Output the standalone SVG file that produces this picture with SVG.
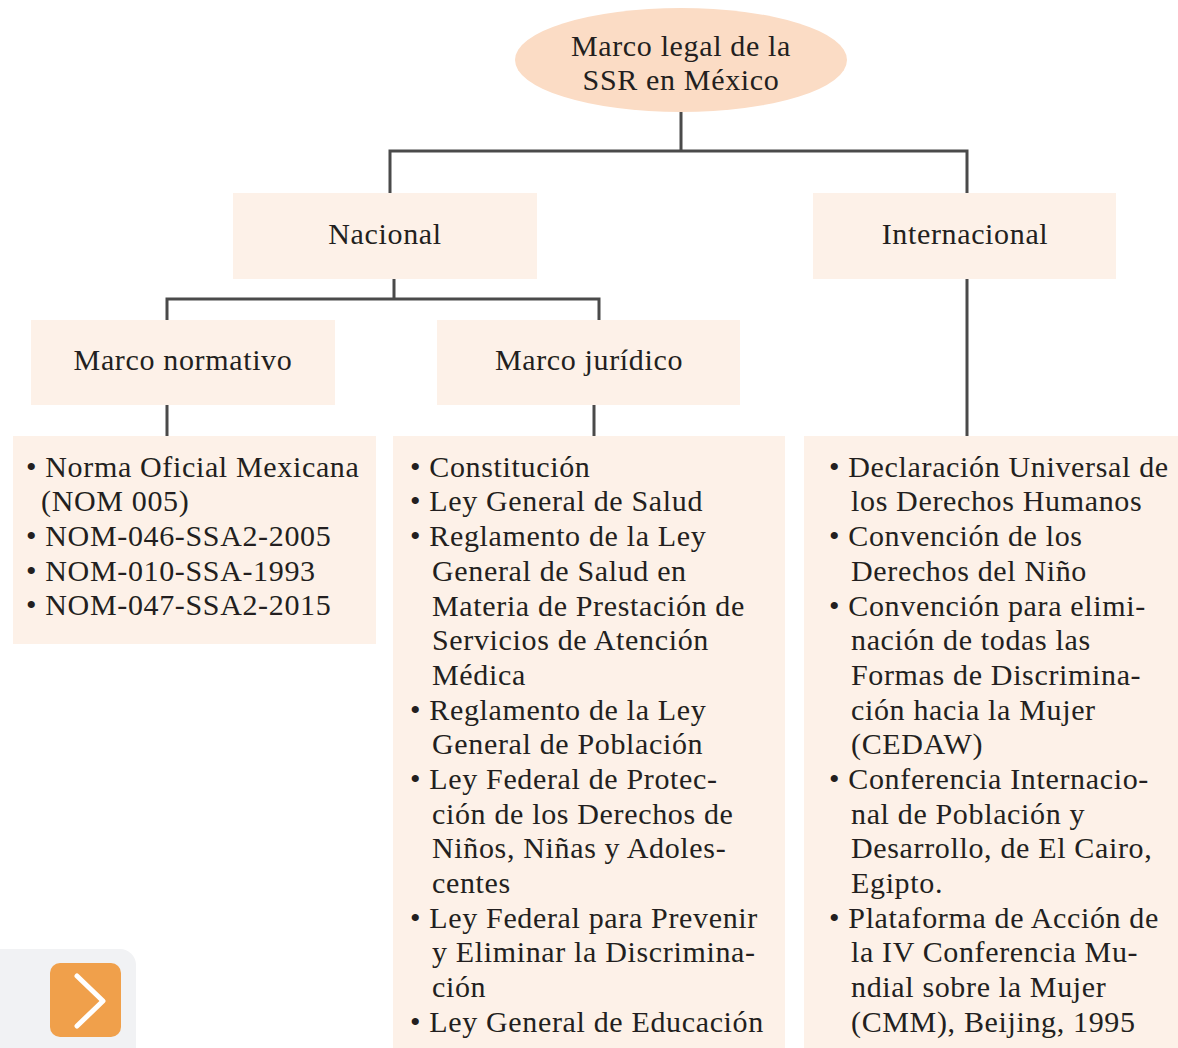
<svg xmlns="http://www.w3.org/2000/svg" width="1178" height="1048" viewBox="0 0 1178 1048">
<style>
.box{fill:#fdf1e8}
.t{font-family:"Liberation Serif","DejaVu Serif",serif;font-size:30px;letter-spacing:0.65px;fill:#231f20}
.c{text-anchor:middle}
.ln{stroke:#4a4a4a;stroke-width:3;fill:none}
</style>
<rect width="1178" height="1048" fill="#ffffff"/>
<g id="connectors">
<path class="ln" d="M681,112 V151 M390,193 V151 H967 V193"/>
<path class="ln" d="M394,279 V299 M167,320 V299 H599 V320"/>
<path class="ln" d="M167,405 V436 M594,405 V436 M967,279 V436"/>
</g>
<g id="root">
<ellipse cx="681" cy="60" rx="166" ry="52" fill="#fbdcc5"/>
<text class="t c" x="681" y="56">Marco legal de la</text>
<text class="t c" x="681" y="90">SSR en México</text>
</g>
<g id="nacional">
<rect class="box" x="233" y="193" width="304" height="86"/>
<text class="t c" x="385" y="244">Nacional</text>
</g>
<g id="internacional">
<rect class="box" x="813" y="193" width="303" height="86"/>
<text class="t c" x="965" y="244">Internacional</text>
</g>
<g id="marco-normativo">
<rect class="box" x="31" y="320" width="304" height="85"/>
<text class="t c" x="183" y="370">Marco normativo</text>
</g>
<g id="marco-juridico">
<rect class="box" x="437" y="320" width="303" height="85"/>
<text class="t c" x="589" y="370">Marco jurídico</text>
</g>
<g id="lista-normativo">
<rect class="box" x="13" y="436" width="363" height="208"/>
<text class="t" x="26" y="477">• Norma Oficial Mexicana</text>
<text class="t" x="41" y="511">(NOM 005)</text>
<text class="t" x="26" y="546">• NOM-046-SSA2-2005</text>
<text class="t" x="26" y="581">• NOM-010-SSA-1993</text>
<text class="t" x="26" y="615">• NOM-047-SSA2-2015</text>
</g>
<g id="lista-juridico">
<rect class="box" x="393" y="436" width="392" height="612"/>
<text class="t" x="410" y="477">• Constitución</text>
<text class="t" x="410" y="511">• Ley General de Salud</text>
<text class="t" x="410" y="546">• Reglamento de la Ley</text>
<text class="t" x="432" y="581">General de Salud en</text>
<text class="t" x="432" y="616">Materia de Prestación de</text>
<text class="t" x="432" y="650">Servicios de Atención</text>
<text class="t" x="432" y="685">Médica</text>
<text class="t" x="410" y="720">• Reglamento de la Ley</text>
<text class="t" x="432" y="754">General de Población</text>
<text class="t" x="410" y="789">• Ley Federal de Protec-</text>
<text class="t" x="432" y="824">ción de los Derechos de</text>
<text class="t" x="432" y="858">Niños, Niñas y Adoles-</text>
<text class="t" x="432" y="893">centes</text>
<text class="t" x="410" y="928">• Ley Federal para Prevenir</text>
<text class="t" x="432" y="962">y Eliminar la Discrimina-</text>
<text class="t" x="432" y="997">ción</text>
<text class="t" x="410" y="1032">• Ley General de Educación</text>
</g>
<g id="lista-internacional">
<rect class="box" x="804" y="436" width="374" height="612"/>
<text class="t" x="829" y="477">• Declaración Universal de</text>
<text class="t" x="851" y="511">los Derechos Humanos</text>
<text class="t" x="829" y="546">• Convención de los</text>
<text class="t" x="851" y="581">Derechos del Niño</text>
<text class="t" x="829" y="616">• Convención para elimi-</text>
<text class="t" x="851" y="650">nación de todas las</text>
<text class="t" x="851" y="685">Formas de Discrimina-</text>
<text class="t" x="851" y="720">ción hacia la Mujer</text>
<text class="t" x="851" y="754">(CEDAW)</text>
<text class="t" x="829" y="789">• Conferencia Internacio-</text>
<text class="t" x="851" y="824">nal de Población y</text>
<text class="t" x="851" y="858">Desarrollo, de El Cairo,</text>
<text class="t" x="851" y="893">Egipto.</text>
<text class="t" x="829" y="928">• Plataforma de Acción de</text>
<text class="t" x="851" y="962">la IV Conferencia Mu-</text>
<text class="t" x="851" y="997">ndial sobre la Mujer</text>
<text class="t" x="851" y="1032">(CMM), Beijing, 1995</text>
</g>
<g id="next-button">
<rect x="-20" y="949" width="156" height="120" rx="16" fill="#f1f2f4"/>
<rect x="50" y="963" width="71" height="74" rx="10" fill="#f0a04b"/>
<path d="M77,976 L103,1001 L77,1026" fill="none" stroke="#ffffff" stroke-width="5" stroke-linecap="round" stroke-linejoin="round"/>
</g>
</svg>
